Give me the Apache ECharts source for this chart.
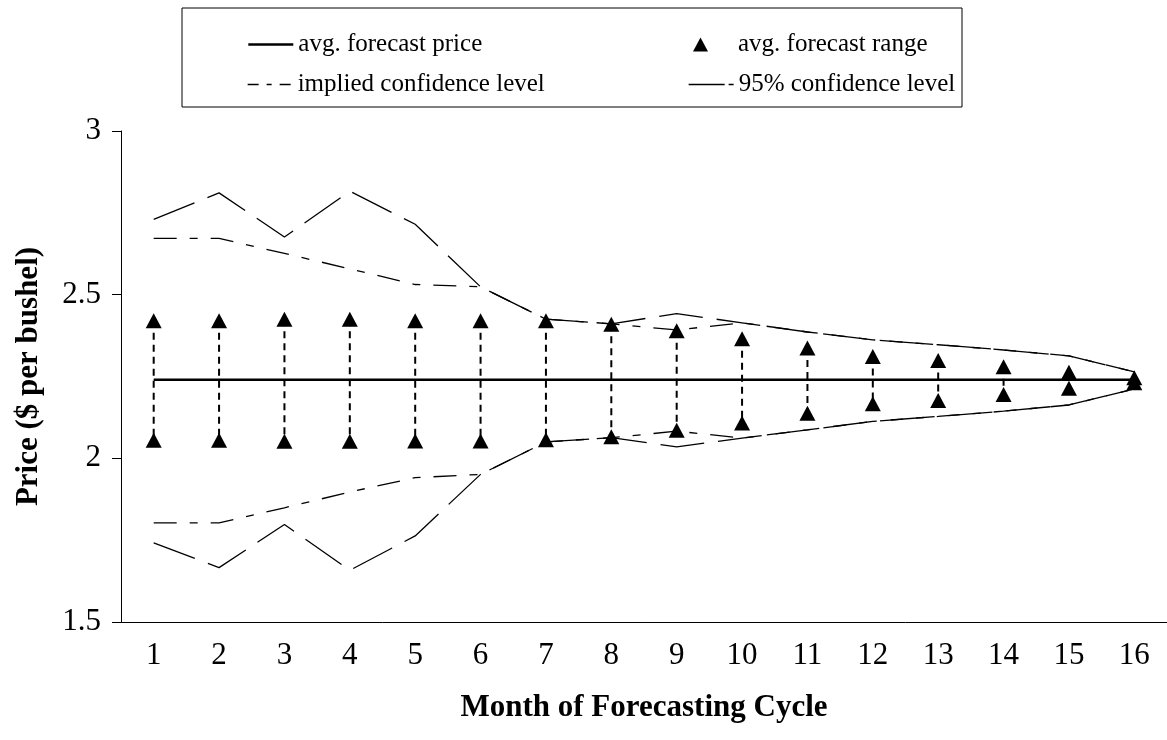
<!DOCTYPE html>
<html>
<head>
<meta charset="utf-8">
<script src="https://cdn.jsdelivr.net/npm/echarts@6/dist/echarts.min.js"></script>
<style>
  html, body { margin: 0; padding: 0; background: #fff; }
  #chart { width: 1167px; height: 740px; }
</style>
</head>
<body>
<div id="chart"></div>
<script>
// Month of the forecasting cycle
const months = ['1','2','3','4','5','6','7','8','9','10','11','12','13','14','15','16'];

// Average forecast price ($ per bushel)
const avgPrice = [2.24, 2.24, 2.24, 2.24, 2.24, 2.24, 2.24, 2.24, 2.24, 2.24, 2.24, 2.24, 2.24, 2.24, 2.24, 2.24];

// Average forecast range: high and low ends
const rangeHigh = [2.42, 2.42, 2.425, 2.425, 2.42, 2.42, 2.42, 2.41, 2.39, 2.365, 2.337, 2.311, 2.299, 2.28, 2.263, 2.246];
const rangeLow  = [2.055, 2.055, 2.052, 2.052, 2.053, 2.053, 2.057, 2.066, 2.086, 2.108, 2.138, 2.167, 2.177, 2.195, 2.214, 2.231];

// Implied confidence level bounds
const impliedUpper = [2.672, 2.672, 2.626, 2.579, 2.531, 2.524, 2.425, 2.411, 2.392, 2.414, 2.386, 2.362, 2.347, 2.331, 2.313, 2.264];
const impliedLower = [1.803, 1.803, 1.849, 1.897, 1.941, 1.951, 2.05, 2.063, 2.083, 2.062, 2.087, 2.113, 2.128, 2.144, 2.163, 2.212];

// 95% confidence level bounds
const conf95Upper = [2.73, 2.811, 2.676, 2.816, 2.715, 2.524, 2.425, 2.411, 2.442, 2.414, 2.386, 2.362, 2.347, 2.331, 2.313, 2.264];
const conf95Lower = [1.742, 1.666, 1.798, 1.658, 1.763, 1.951, 2.05, 2.063, 2.035, 2.062, 2.087, 2.113, 2.128, 2.144, 2.163, 2.212];

// Y-axis scale
const yMin = 1.5, yMax = 3, yStep = 0.5;

const FONT = '"Liberation Serif", "Times New Roman", serif';
const BLACK = '#000';

const DASH_IMPLIED = [23, 13, 8, 13];
const DASH_95 = [44, 14];

const chart = echarts.init(document.getElementById('chart'));

const lineSeries = (name, data, dash, width) => ({
  name,
  type: 'line',
  data,
  symbol: 'none',
  silent: true,
  z: 3,
  itemStyle: { color: BLACK },
  lineStyle: { color: BLACK, width, type: dash }
});

// one legend block per entry so the two columns line up like the boxed key
const legendEntry = (item, left, top, itemWidth, extraText) => ({
  data: [item],
  left, top,
  padding: 0,
  orient: 'vertical',
  itemWidth,
  itemHeight: 14,
  selectedMode: false,
  textStyle: Object.assign({ fontFamily: FONT, fontSize: 25, color: BLACK }, extraText || {})
});

chart.setOption({
  animation: false,
  backgroundColor: '#fff',
  textStyle: { fontFamily: FONT },
  grid: { left: 121, right: -6, top: 131, bottom: 118 },
  legend: [
    legendEntry({ name: 'avg. forecast price', itemStyle: { opacity: 0 }, lineStyle: { width: 2.6 } }, 247, 32, 45),
    legendEntry({ name: 'implied confidence level', itemStyle: { opacity: 0 }, lineStyle: { width: 1.3, type: [11, 8, 5, 8] } }, 247, 72, 45),
    legendEntry({ name: 'avg. forecast range', icon: 'triangle', itemStyle: { color: BLACK, opacity: 1 } }, 693, 32, 15, { padding: [0, 0, 0, 25] }),
    legendEntry({ name: '95% confidence level', itemStyle: { opacity: 0 }, lineStyle: { width: 1.3, type: [36, 4, 5, 40] } }, 688, 72, 45)
  ],
  graphic: [{
    type: 'rect',
    shape: { x: 182, y: 8, width: 780, height: 99 },
    style: { fill: 'none', stroke: BLACK, lineWidth: 1 },
    z: 10
  }],
  xAxis: {
    type: 'category',
    data: months,
    boundaryGap: true,
    name: 'Month of Forecasting Cycle',
    nameLocation: 'middle',
    nameGap: 70,
    nameTextStyle: { fontFamily: FONT, fontSize: 31, fontWeight: 'bold', color: BLACK },
    axisLine: { lineStyle: { color: BLACK, width: 1 } },
    axisTick: { length: 9, lineStyle: { color: BLACK } },
    axisLabel: { margin: 18, fontFamily: FONT, fontSize: 31, color: BLACK },
    splitLine: { show: false }
  },
  yAxis: {
    type: 'value',
    min: yMin, max: yMax, interval: yStep,
    name: 'Price ($ per bushel)',
    nameLocation: 'middle',
    nameGap: 77,
    nameTextStyle: { fontFamily: FONT, fontSize: 31, fontWeight: 'bold', color: BLACK },
    axisLine: { show: true, lineStyle: { color: BLACK, width: 1 } },
    axisTick: { show: true, length: 9, lineStyle: { color: BLACK } },
    axisLabel: { margin: 20, fontFamily: FONT, fontSize: 31, color: BLACK },
    splitLine: { show: false }
  },
  series: [
    lineSeries('avg. forecast price', avgPrice, 'solid', 2.6),
    lineSeries('implied confidence level', impliedUpper, DASH_IMPLIED, 1.3),
    lineSeries('implied confidence level', impliedLower, DASH_IMPLIED, 1.3),
    lineSeries('95% confidence level', conf95Upper, DASH_95, 1.3),
    lineSeries('95% confidence level', conf95Lower, DASH_95, 1.3),
    {
      // dashed drop line joining the high and low ends of each month's range
      name: 'range span',
      type: 'custom',
      silent: true,
      z: 2,
      data: months.map((m, i) => [i, rangeHigh[i], rangeLow[i]]),
      renderItem: (params, api) => {
        const hi = api.coord([api.value(0), api.value(1)]);
        const lo = api.coord([api.value(0), api.value(2)]);
        return {
          type: 'line',
          shape: { x1: hi[0], y1: hi[1], x2: lo[0], y2: lo[1] },
          style: { stroke: BLACK, lineWidth: 2, lineDash: [7, 5] }
        };
      }
    },
    {
      name: 'avg. forecast range',
      type: 'scatter',
      data: rangeHigh,
      symbol: 'triangle',
      symbolSize: [16, 15],
      itemStyle: { color: BLACK, opacity: 1 },
      silent: true,
      z: 5
    },
    {
      name: 'avg. forecast range',
      type: 'scatter',
      data: rangeLow,
      symbol: 'triangle',
      symbolSize: [16, 15],
      itemStyle: { color: BLACK, opacity: 1 },
      silent: true,
      z: 5
    }
  ]
});
</script>
</body>
</html>
